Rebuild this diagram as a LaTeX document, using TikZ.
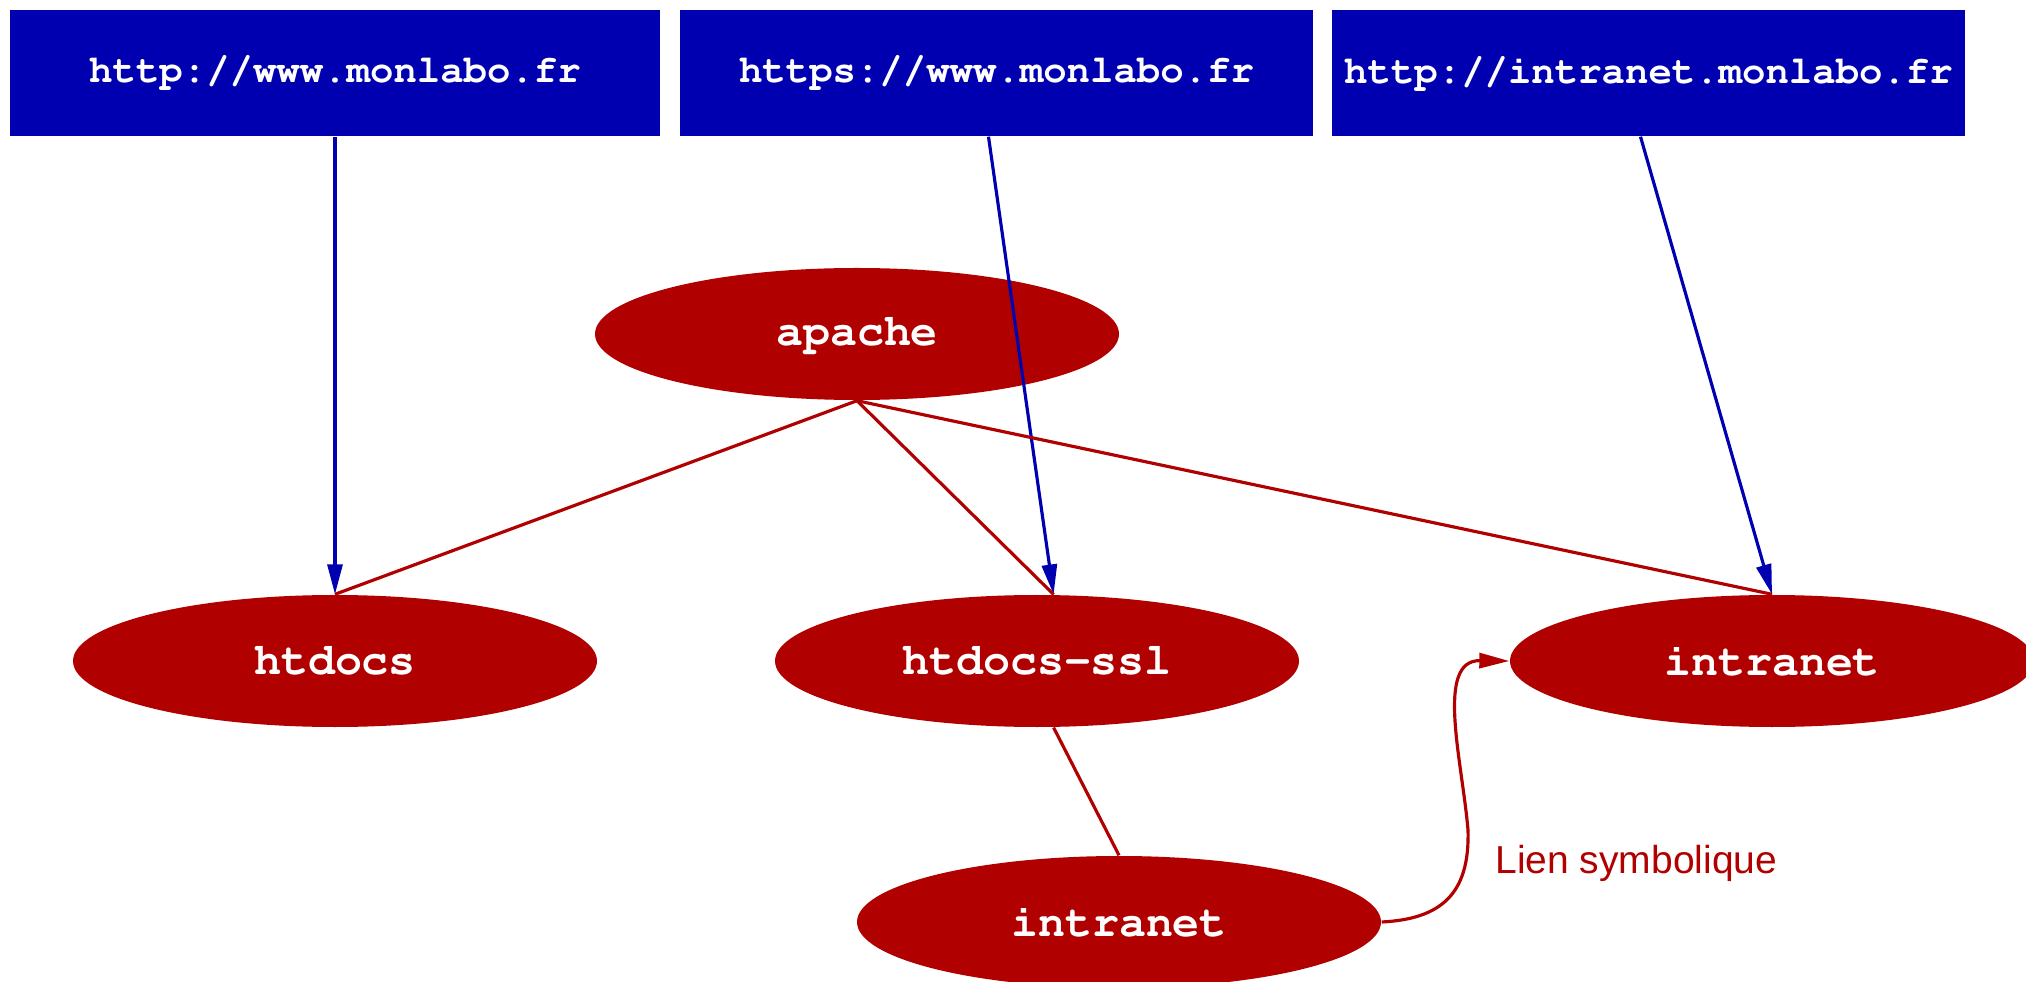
\documentclass[tikz,border=0pt]{standalone}
\usepackage[T1]{fontenc}
\usepackage{fontspec}
\setmainfont{Liberation Sans}
\usetikzlibrary{shapes.geometric,arrows.meta}
\definecolor{urlblue}{RGB}{0,0,176}
\definecolor{dirred}{RGB}{176,0,0}
\newcommand{\courierbf}{\fontencoding{T1}\fontfamily{pcr}\fontseries{b}\selectfont}
\tikzset{
urlbox/.style={rectangle, fill=urlblue, text=white, inner sep=0pt, minimum height=1.26cm, minimum width=6.33cm, font=\courierbf\fontsize{11.1}{13}\selectfont},
dirnode/.style={ellipse, fill=dirred, text=white, inner sep=0pt, minimum width=5.24cm, minimum height=1.32cm, font=\courierbf\fontsize{12.8}{15}\selectfont},
urllink/.style={draw=urlblue, line width=0.9pt, -{Triangle[length=0.3cm,width=0.15cm]}},
dirlink/.style={draw=dirred, line width=0.9pt},
symlink/.style={draw=dirred, line width=0.9pt, -{Triangle[length=0.3cm,width=0.15cm]}}
}
\begin{document}
\begin{tikzpicture}
\useasboundingbox (0,0) rectangle (20.26,-9.82);
\node[urlbox, minimum width=6.50cm] (http) at (3.35,-0.73) {http://www.monlabo.fr};
\node[urlbox] (https) at (9.965,-0.73) {https://www.monlabo.fr};
\node[urlbox] (intrahttp) at (16.485,-0.73) {http://intranet.monlabo.fr};
\node[dirnode] (apache) at (8.57,-3.34) {apache};
\node[dirnode] (htdocs) at (3.35,-6.61) {htdocs};
\node[dirnode] (ssl) at (10.37,-6.61) {htdocs-ssl};
\node[dirnode] (intranet) at (17.72,-6.61) {intranet};
\node[dirnode] (sslintranet) at (11.19,-9.22) {intranet};
\draw[urllink] (http.south) -- (htdocs.north);
\draw[urllink] ([xshift=-0.08cm]https.south) -- (ssl.76);
\draw[urllink] ([xshift=-0.08cm]intrahttp.south) -- (intranet.north);
\foreach \d in {htdocs,intranet}
{
\draw[dirlink] (apache.south) -- (\d.north);
}
\draw[dirlink] (apache.south) -- (ssl.76);
\draw[dirlink] (ssl.-76) -- (sslintranet.north);
\coordinate (bend) at (14.68,-8.30);
\draw[symlink] (sslintranet.east) .. controls (14.40,-9.19) and (14.70,-8.95) .. (bend) .. controls (14.62,-7.60) and (14.35,-6.60) .. (intranet.west);
\node[text=dirred, anchor=base west, font=\fontsize{11.1}{13}\selectfont] (symlabel) at (14.83,-8.73) {Lien symbolique};
\end{tikzpicture}
\end{document}
